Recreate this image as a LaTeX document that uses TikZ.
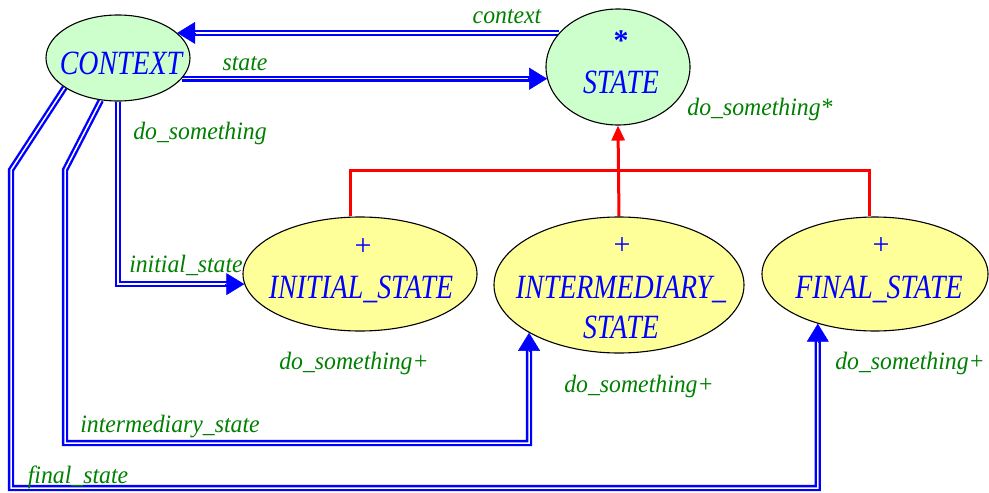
\documentclass[tikz,border=0pt]{standalone}
\usepackage{fontspec}
\setmainfont{Liberation Serif}
\usepackage{graphicx}
\usetikzlibrary{shapes.geometric,arrows.meta}
\pgfdeclarelayer{bg}
\pgfsetlayers{bg,main}
\definecolor{ctxgreen}{RGB}{204,255,204}
\definecolor{stateyellow}{RGB}{255,255,153}
\definecolor{lblgreen}{RGB}{0,128,0}
\newcommand{\nmtext}[1]{\scalebox{0.82}[1]{#1}}
\newcommand{\lbtext}[1]{\scalebox{0.95}[1]{#1}}
\begin{document}
\begin{tikzpicture}[x=1pt,y=-1pt,
  cls/.style={ellipse,draw=black,line width=1.1pt,inner sep=0pt},
  deferredcls/.style={cls,fill=ctxgreen},
  effectivecls/.style={cls,fill=stateyellow},
  nm/.style={text=blue,font=\fontsize{34}{34}\selectfont\itshape,anchor=base,inner sep=0pt},
  flagtxt/.style={text=blue,font=\fontsize{30}{30}\selectfont,anchor=base,inner sep=0pt},
  lbl/.style={text=lblgreen,font=\fontsize{25}{25}\selectfont\itshape,anchor=base,inner sep=0pt},
  client/.style={draw=blue,double=white,line width=2.4pt,double distance=1.5pt},
  ctip/.style={draw=blue,line width=0.5pt,-{Triangle[length=18pt,width=22pt]}},
  inherit/.style={draw=red,line width=3pt},
]
\useasboundingbox (0,0) rectangle (989,493);

% classes
\node[deferredcls,minimum width=144pt,minimum height=86pt] (ctx) at (118,58) {};
\node[deferredcls,minimum width=144pt,minimum height=116pt] (st) at (618,67) {};
\node[effectivecls,minimum width=234pt,minimum height=114pt] (ini) at (360,274) {};
\node[effectivecls,minimum width=250pt,minimum height=136pt] (itm) at (619,285) {};
\node[effectivecls,minimum width=226pt,minimum height=114pt] (fin) at (875,274) {};

% coordinates
\coordinate (tipCtx) at (st.150 -| ctx.23);
\coordinate (tipSt) at (ctx.-18 -| st.190);
\coordinate (tipIni) at (ini.185);
\coordinate (tipItm) at (itm.208);
\coordinate (tipFin) at (fin.221);
\coordinate (iniTop) at ([xshift=-10pt]ini.north);
\coordinate (finTop) at ([xshift=-6pt]fin.north);
\coordinate (busY) at (0,170);

\begin{pgfonlayer}{bg}
  \draw[client, shorten >=17pt] (st.150) -- (tipCtx);
  \draw[client, shorten >=17pt] (ctx.-18) -- (tipSt);
  \draw[client, shorten >=17pt] (ctx.south) |- (tipIni);
  \draw[client, shorten >=17pt] (ctx.248) -- (65,170) -- (65,443) -| (tipItm);
  \draw[client, shorten >=17pt] (ctx.209) -- (11,170) -- (11,488) -| (tipFin);
  \draw[inherit] (iniTop) -- (iniTop |- busY) -- (finTop |- busY) -- (finTop);
  \draw[inherit, -{Triangle[length=15pt,width=13pt]}] (itm.north) -- (st.south);
\end{pgfonlayer}

% arrowheads
\draw[ctip] ([xshift=19pt]tipCtx) -- (tipCtx);
\draw[ctip] ([xshift=-19pt]tipSt) -- (tipSt);
\draw[ctip] ([xshift=-19pt]tipIni) -- (tipIni);
\draw[ctip] ([yshift=-19pt]tipItm) -- (tipItm);
\draw[ctip] ([yshift=-19pt]tipFin) -- (tipFin);

% class names
\node[nm] (tCtx) at (121,74) {\nmtext{CONTEXT}};
\node[nm] (tSt) at (621,93) {\nmtext{STATE}};
\node[nm] (tIni) at (361,298) {\nmtext{INITIAL\_STATE}};
\node[nm] (tItm1) at (621,298) {\nmtext{INTERMEDIARY\_}};
\node[nm] (tItm2) at (621,338) {\nmtext{STATE}};
\node[nm] (tFin) at (879,298) {\nmtext{FINAL\_STATE}};

% flags
\node[flagtxt] (pIni) at (363,255) {+};
\node[flagtxt] (pItm) at (622,254) {+};
\node[flagtxt] (pFin) at (881,254) {+};
\node[flagtxt,font=\fontsize{30}{30}\selectfont\bfseries] (aSt) at (621,50) {*};

% labels
\node[lbl] (lContext) at (507,23) {\lbtext{context}};
\node[lbl] (lState) at (245,70) {\lbtext{state}};
\node[lbl] (lDoCtx) at (200,139) {\lbtext{do\_something}};
\node[lbl] (lDoSt) at (760,115) {\lbtext{do\_something*}};
\node[lbl] (lInitial) at (186,272) {\lbtext{initial\_state}};
\node[lbl] (lDoIni) at (354,369) {\lbtext{do\_something+}};
\node[lbl] (lDoItm) at (639,392) {\lbtext{do\_something+}};
\node[lbl] (lDoFin) at (910,369) {\lbtext{do\_something+}};
\node[lbl] (lInter) at (170,432) {\lbtext{intermediary\_state}};
\node[lbl] (lFinal) at (78,483) {\lbtext{final\_state}};
\end{tikzpicture}
\end{document}
